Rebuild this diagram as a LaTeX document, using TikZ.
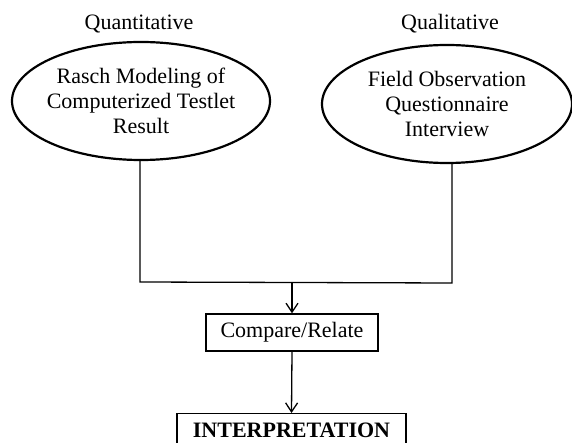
\documentclass[tikz,border=0pt]{standalone}
\usepackage{fontspec}
\setmainfont{Liberation Serif}
\usetikzlibrary{shapes.geometric,arrows.meta}
\begin{document}
\begin{tikzpicture}[x=1pt,y=1pt,
  txt/.style={font=\fontsize{22}{25}\selectfont, align=center, inner sep=0pt},
  oval/.style={ellipse, draw, line width=2.2pt, inner sep=0pt},
  boxed/.style={draw, line width=1.3pt, inner sep=0pt},
  conn/.style={line width=1.3pt},
  arr/.style={conn, -{Straight Barb[length=9pt,width=12pt,line width=1.3pt]}}]
\useasboundingbox (0,0) rectangle (572,-443);
\begin{scope}
\clip (0,0) rectangle (572,-443);
\node[txt, anchor=base] (qn) at (139,-30) {Quantitative};
\node[txt, anchor=base] (ql) at (450,-30) {Qualitative};
\node[oval, minimum width=258, minimum height=118] (quant) at (141,-101) {};
\node[txt] at (quant.center) {Rasch Modeling of\\Computerized Testlet\\Result};
\node[oval, minimum width=250, minimum height=118] (qual) at (447,-104) {};
\node[txt] at (qual.center) {Field Observation\\Questionnaire\\Interview};
\coordinate (j1) at (140,-282);
\coordinate (j2) at (452,-283);
\coordinate (jm) at (292,-282.5);
\node[boxed, minimum width=172, minimum height=37] (cmp) at (292,-332.5) {};
\node[txt] at (cmp.center) {Compare/Relate};
\node[boxed, minimum width=229, minimum height=44, anchor=north] (intp) at (291.5,-413) {};
\node[txt, anchor=base] at (291.5,-437) {\bfseries INTERPRETATION};
\draw[conn] (quant.south -| j1) -- (j1) -- (j2) -- (qual.south -| j2);
\draw[arr] (jm) -- (cmp.north);
\draw[arr] (cmp.south) -- (intp.north);
\end{scope}
\end{tikzpicture}
\end{document}
